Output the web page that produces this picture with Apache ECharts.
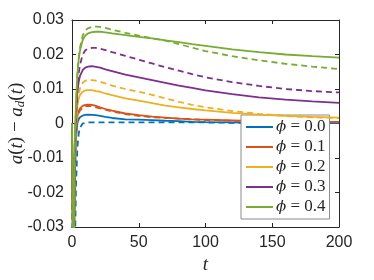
<!DOCTYPE html>
<html>
<head>
<meta charset="utf-8">
<script src="https://cdn.jsdelivr.net/npm/echarts@6/dist/echarts.min.js"></script>
<style>html,body{margin:0;padding:0;background:#fff;}#c{width:374px;height:280px;}</style>
</head>
<body>
<div id="c"></div>
<script>
const tValues = [0,1,2,3,4,5,6,8,10,12,15,18,21,25,30,40,50,60,70,80,90,100,120,140,160,180,200];
const phiLabels = ['0.0','0.1','0.2','0.3','0.4'];
const colors = ['#0072BD','#D95319','#EDB120','#7E2F8E','#77AC30'];
const xTicks = [0,50,100,150,200];
const yTickLabels = ['-0.03','-0.02','-0.01','0','0.01','0.02','0.03'];

// solid curves
const solid00 = [0,-0.05,-0.016,-0.004,0.0,0.0012,0.0018,0.0023,0.0025,0.0026,0.0025,0.0024,0.0022,0.0019,0.0016,0.0012,0.0011,0.0010,0.0008,0.0007,0.0005,0.0004,0.0003,0.0002,0.0002,0.0001,0.0001];
const solid01 = [0,-0.05,-0.014,-0.002,0.002,0.0036,0.0044,0.0051,0.0054,0.0055,0.0054,0.0051,0.0047,0.0042,0.0037,0.0029,0.0024,0.0020,0.0017,0.0014,0.0012,0.0011,0.0009,0.0007,0.0006,0.0005,0.0005];
const solid02 = [0,-0.05,-0.012,0.0,0.005,0.0072,0.0083,0.0092,0.0096,0.0097,0.0097,0.0094,0.0092,0.0087,0.0082,0.0073,0.0066,0.0059,0.0052,0.0047,0.0042,0.0038,0.0031,0.0026,0.0022,0.0019,0.0017];
const solid03 = [0,-0.05,-0.010,0.003,0.009,0.0120,0.0138,0.0155,0.0162,0.0165,0.0166,0.0164,0.0162,0.0157,0.0152,0.0142,0.0134,0.0126,0.0118,0.0110,0.0103,0.0096,0.0085,0.0076,0.0069,0.0064,0.0060];
const solid04 = [0,-0.045,-0.006,0.006,0.014,0.0185,0.0212,0.0242,0.0255,0.0261,0.0265,0.0266,0.0266,0.0264,0.0261,0.0256,0.0251,0.0247,0.0241,0.0236,0.0230,0.0225,0.0215,0.0207,0.0200,0.0195,0.0191];
// dashed curves
const dash00 = [0,-0.07,-0.040,-0.018,-0.007,-0.003,-0.0012,0.0,0.0002,0.0003,0.0003,0.0003,0.0003,0.0003,0.0003,0.0003,0.0003,0.0003,0.0003,0.0003,0.0003,0.0003,0.0002,0.0002,0.0002,0.0001,0.0001];
const dash01 = [0,-0.055,-0.018,-0.004,0.001,0.0030,0.0038,0.0046,0.0050,0.0051,0.0050,0.0047,0.0044,0.0040,0.0035,0.0027,0.0022,0.0018,0.0016,0.0014,0.0012,0.0010,0.0008,0.0006,0.0005,0.0004,0.0004];
const dash02 = [0,-0.055,-0.016,-0.002,0.005,0.0085,0.0102,0.0118,0.0124,0.0126,0.0126,0.0124,0.0121,0.0116,0.0110,0.0100,0.0092,0.0083,0.0073,0.0063,0.0054,0.0047,0.0036,0.0028,0.0022,0.0018,0.0016];
const dash03 = [0,-0.055,-0.014,0.002,0.010,0.0145,0.0170,0.0200,0.0212,0.0217,0.0219,0.0219,0.0217,0.0213,0.0207,0.0196,0.0185,0.0174,0.0163,0.0153,0.0143,0.0134,0.0120,0.0109,0.0100,0.0094,0.0090];
const dash04 = [0,-0.05,-0.010,0.005,0.014,0.0190,0.0220,0.0255,0.0270,0.0276,0.0280,0.0281,0.0280,0.0277,0.0272,0.0263,0.0255,0.0247,0.0240,0.0230,0.0220,0.0210,0.0195,0.0183,0.0173,0.0165,0.0158];

const solids = [solid00,solid01,solid02,solid03,solid04];
const dashes = [dash00,dash01,dash02,dash03,dash04];
const pair = (arr) => tValues.map((t,i)=>[t,arr[i]]);

const series = [];
for (let k=0;k<5;k++){
  series.push({
    name: 'ϕ = ' + phiLabels[k], type:'line', data: pair(solids[k]),
    showSymbol:false, symbol:'none', clip:true, animation:false,
    lineStyle:{color:colors[k], width:1.8}, itemStyle:{color:colors[k]}, z:2+k
  });
  series.push({
    name: 'd' + phiLabels[k], type:'line', data: pair(dashes[k]),
    showSymbol:false, symbol:'none', clip:true, animation:false,
    lineStyle:{color:colors[k], width:1.8, type:[6,4]}, itemStyle:{color:colors[k]}, z:2+k
  });
}

const axisColor = '#262626';
const fmtY = (v) => { const r = Math.round(v*100); return yTickLabels[r+3]; };
const baseX = {type:'value', min:0, max:200, interval:50,
  axisLine:{show:true, onZero:false, lineStyle:{color:axisColor, width:1}},
  axisTick:{show:true, inside:true, length:4, lineStyle:{color:axisColor}},
  splitLine:{show:false}};
const baseY = {type:'value', min:-0.03, max:0.03, interval:0.01,
  axisLine:{show:true, onZero:false, lineStyle:{color:axisColor, width:1}},
  axisTick:{show:true, inside:true, length:4, lineStyle:{color:axisColor}},
  splitLine:{show:false}};

const chart = echarts.init(document.getElementById('c'), null, {renderer:'canvas'});
chart.setOption({
  animation:false,
  backgroundColor:'#fff',
  grid:{left:72, right:35, top:20, bottom:53, containLabel:false, outerBoundsMode:'none'},
  xAxis:[
    Object.assign({}, baseX, {position:'bottom',
      axisLabel:{color:axisColor, fontFamily:'Liberation Sans', fontSize:16, margin:8, formatter:(v)=>String(v)},
      name:'t', nameLocation:'middle', nameGap:28, nameMoveOverlap:false,
      nameTextStyle:{fontFamily:'Liberation Serif', fontStyle:'italic', fontSize:19, color:axisColor}}),
    Object.assign({}, baseX, {position:'top', axisLabel:{show:false}})
  ],
  yAxis:[
    Object.assign({}, baseY, {position:'left',
      axisLabel:{color:axisColor, fontFamily:'Liberation Sans', fontSize:16, margin:8, formatter:fmtY},
      name:'{i|a}{n|(}{i|t}{n|) − }{i|a}{s|d}{n|(}{i|t}{n|)}', nameLocation:'middle', nameGap:45, nameRotate:90, nameMoveOverlap:false,
      nameTextStyle:{color:axisColor, rich:{
        i:{fontFamily:'Liberation Serif', fontStyle:'italic', fontSize:19, color:axisColor},
        n:{fontFamily:'Liberation Serif', fontSize:19, color:axisColor},
        s:{fontFamily:'Liberation Serif', fontStyle:'italic', fontSize:13, color:axisColor, verticalAlign:'bottom', padding:[8,0,0,0]}
      }}}),
    Object.assign({}, baseY, {position:'right', axisLabel:{show:false}})
  ],
  legend:{
    show:true, orient:'vertical', left:241, top:115,
    data: phiLabels.map(p=>'ϕ = '+p),
    icon:'rect', itemWidth:27, itemHeight:2, itemGap:2,
    padding:[3,4,3,5],
    backgroundColor:'#fff', borderColor:'#8a8a8a', borderWidth:1,
    formatter:(name)=>'{i|ϕ} = ' + name.slice(4),
    textStyle:{fontFamily:'Liberation Serif', fontSize:17, color:axisColor, lineHeight:18, padding:[0,0,0,-2],
      rich:{i:{fontFamily:'DejaVu Serif', fontStyle:'italic', fontSize:15, color:axisColor, lineHeight:18}}},
    selectedMode:false
  },
  series: series
});
</script>
</body>
</html>
